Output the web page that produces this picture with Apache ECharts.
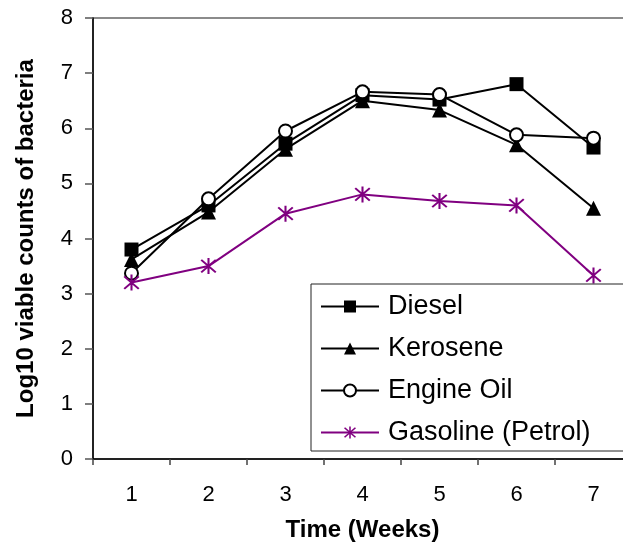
<!DOCTYPE html>
<html>
<head>
<meta charset="utf-8">
<script src="https://cdn.jsdelivr.net/npm/echarts@6/dist/echarts.min.js"></script>
<style>
html,body{margin:0;padding:0;background:#fff;}
#chart{width:623px;height:545px;}
</style>
</head>
<body>
<div id="chart"></div>
<script>
const weeks = ['1','2','3','4','5','6','7'];
const diesel = [3.80, 4.60, 5.72, 6.60, 6.52, 6.80, 5.65];
const kerosene = [3.62, 4.48, 5.62, 6.50, 6.33, 5.70, 4.55];
const engineOil = [3.37, 4.72, 5.95, 6.66, 6.61, 5.88, 5.82];
const gasoline = [3.20, 3.50, 4.45, 4.80, 4.68, 4.60, 3.33];
const yTicks = [0,1,2,3,4,5,6,7,8];

const FONT = '"Liberation Sans", Arial, sans-serif';
const asterisk = 'path://M9 1 L11 1 L11 19 L9 19 Z M3.7 2.3 L17.7 16.3 L16.3 17.7 L2.3 3.7 Z M16.3 2.3 L17.7 3.7 L3.7 17.7 L2.3 16.3 Z';

const chart = echarts.init(document.getElementById('chart'), null, {renderer:'canvas'});
chart.setOption({
  animation: false,
  backgroundColor: '#fff',
  textStyle: {fontFamily: FONT},
  grid: {left: 93, top: 18, width: 539, bottom: 86, show: true, borderColor: '#666', borderWidth: 1.5,
         containLabel: false, outerBoundsMode: 'none'},
  legend: {
    orient: 'vertical', left: 311, top: 284,
    backgroundColor: '#fff', borderColor: '#222', borderWidth: 1,
    padding: [9, 60, 5, 9], itemGap: 15, itemWidth: 58, itemHeight: 15,
    textStyle: {fontFamily: FONT, fontSize: 27, color: '#000', padding: [0,0,0,4]},
    data: ['Diesel','Kerosene','Engine Oil','Gasoline (Petrol)']
  },
  xAxis: {
    type: 'category', data: weeks, boundaryGap: true,
    name: 'Time (Weeks)', nameLocation: 'middle', nameGap: 59,
    nameTextStyle: {fontFamily: FONT, fontSize: 24, fontWeight: 'bold', color: '#000'},
    axisLine: {lineStyle: {color: '#000', width: 1.5}},
    axisTick: {show: true, length: 6, lineStyle: {color: '#444', width: 1.5}},
    axisLabel: {fontFamily: FONT, fontSize: 22, color: '#000', margin: 25},
    splitLine: {show: false}
  },
  yAxis: {
    type: 'value', min: yTicks[0], max: yTicks[yTicks.length-1], interval: 1,
    name: 'Log10 viable counts of bacteria', nameLocation: 'middle', nameGap: 55,
    nameTextStyle: {fontFamily: FONT, fontSize: 24, fontWeight: 'bold', color: '#000'},
    axisLine: {show: true, lineStyle: {color: '#000', width: 1.5}},
    axisTick: {show: true, length: 8, lineStyle: {color: '#555', width: 1.5}},
    axisLabel: {fontFamily: FONT, fontSize: 22, color: '#000', margin: 20},
    splitLine: {show: false}
  },
  series: [
    {name: 'Diesel', type: 'line', data: diesel, symbol: 'rect', symbolSize: 14,
     lineStyle: {color: '#000', width: 2}, itemStyle: {color: '#000'}},
    {name: 'Kerosene', type: 'line', data: kerosene, symbol: 'triangle', symbolSize: 15,
     lineStyle: {color: '#000', width: 2}, itemStyle: {color: '#000'}},
    {name: 'Engine Oil', type: 'line', data: engineOil, symbol: 'emptyCircle', symbolSize: 13,
     lineStyle: {color: '#000', width: 2}, itemStyle: {color: '#000', borderWidth: 2}},
    {name: 'Gasoline (Petrol)', type: 'line', data: gasoline, symbol: asterisk, symbolSize: 16,
     lineStyle: {color: '#800080', width: 2}, itemStyle: {color: '#800080'}}
  ]
});
</script>
</body>
</html>
